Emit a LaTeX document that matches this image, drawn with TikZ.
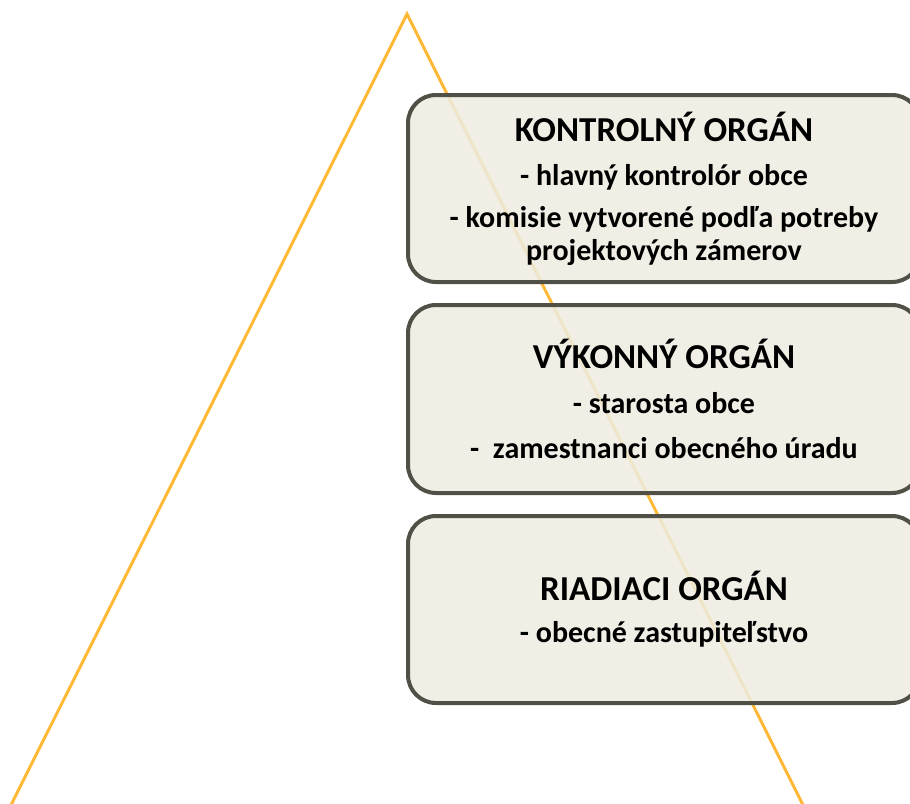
\documentclass[tikz,border=0pt]{standalone}
\usepackage{fontspec}
\setmainfont{Carlito}
\usetikzlibrary{calc}

\definecolor{pyramid}{RGB}{255,185,55}
\definecolor{boxfill}{RGB}{238,236,225}
\definecolor{boxline}{RGB}{80,80,70}

\newcommand\organtitle[1]{{\fontsize{35}{35}\selectfont #1}}

\begin{document}
\begin{tikzpicture}[x=1pt,y=-1pt,
    organ/.style={draw=boxline,line width=4pt,fill=boxfill,fill opacity=.85,text opacity=1,
      rounded corners=28pt,minimum width=512pt,align=center,
      font=\fontsize{30}{33}\selectfont\bfseries}]

  %% Page size and clipping
  \useasboundingbox (0,0) rectangle (910,803);
  \clip (0,0) rectangle (910,803);

  %% The pyramid (its base is below the page)
  \coordinate (apex) at (407,14);
  \coordinate (left) at ($(apex)!1.1!(12,803)$);
  \coordinate (right) at ($(apex)!1.1!(802,803)$);
  \draw[pyramid,line width=3pt] (left) -- (apex) -- (right);

  %% The three organs
  \node[organ,minimum height=187pt] (kontrolny) at (664,188.5)
    {\organtitle{KONTROLNÝ ORGÁN}\\[11pt] - hlavný kontrolór obce\\[9pt]
     - komisie vytvorené podľa potreby\\ projektových zámerov};
  \node[organ,minimum height=188pt] (vykonny) at (664,399)
    {\organtitle{VÝKONNÝ ORGÁN}\\[12pt] - starosta obce\\[12pt] -\ \ zamestnanci obecného úradu};
  \node[organ,minimum height=187pt] (riadiaci) at (664,609.5)
    {\organtitle{RIADIACI ORGÁN}\\[9pt] - obecné zastupiteľstvo};

\end{tikzpicture}
\end{document}
